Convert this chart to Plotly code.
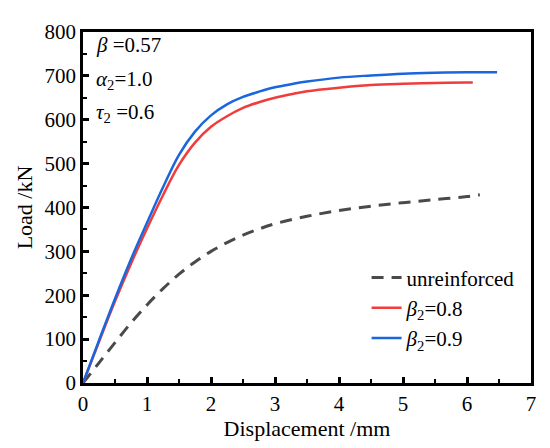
import plotly.graph_objects as go

# displacement (mm) / load (kN)
x_unr = [0, 0.25, 0.5, 0.75, 1.0, 1.25, 1.5, 1.75, 2.0, 2.25, 2.5, 2.75, 3.0, 3.5, 4.0, 4.5, 5.0, 5.5, 6.0, 6.2]
y_unr = [0, 46, 92, 137, 178, 215, 248, 276, 300, 320, 337, 351, 363, 380, 393, 403, 411, 418, 425, 429]

x_b08 = [0, 0.25, 0.5, 0.75, 1.0, 1.25, 1.5, 1.75, 2.0, 2.25, 2.5, 2.75, 3.0, 3.25, 3.5, 4.0, 4.5, 5.0, 5.5, 6.0, 6.09]
y_b08 = [0, 94, 186, 272, 352, 428, 497, 548, 584, 608, 627, 640, 650, 658, 665, 673, 679, 682, 684, 685, 685]

x_b09 = [0, 0.25, 0.5, 0.75, 1.0, 1.25, 1.5, 1.75, 2.0, 2.25, 2.5, 2.75, 3.0, 3.25, 3.5, 4.0, 4.5, 5.0, 5.5, 6.0, 6.47]
y_b09 = [0, 97, 192, 282, 365, 446, 520, 573, 610, 635, 652, 664, 674, 681, 687, 696, 701, 705, 707, 708, 708]

names = ["unreinforced", "<i>β</i><sub>2</sub>=0.8", "<i>β</i><sub>2</sub>=0.9"]
params = ["<i>β</i> =0.57", "<i>α</i><sub>2</sub>=1.0", "<i>τ</i><sub>2</sub> =0.6"]
param_y = [0.963, 0.862, 0.769]

font = "Liberation Serif, Times New Roman, serif"

fig = go.Figure()
fig.add_trace(go.Scatter(x=x_unr, y=y_unr, mode="lines", name=names[0],
                         line=dict(color="#4a4a4a", width=3, dash="12px,8px", shape="spline")))
fig.add_trace(go.Scatter(x=x_b08, y=y_b08, mode="lines", name=names[1],
                         line=dict(color="#f03c3c", width=2.5, shape="spline")))
fig.add_trace(go.Scatter(x=x_b09, y=y_b09, mode="lines", name=names[2],
                         line=dict(color="#1a66dc", width=2.5, shape="spline")))

for t, yy in zip(params, param_y):
    fig.add_annotation(text=t, xref="paper", yref="paper", x=0.025, y=yy,
                       xanchor="left", yanchor="middle", showarrow=False,
                       font=dict(size=21, color="black"))

axis_common = dict(showline=True, linecolor="black", linewidth=2.5, mirror=True,
                   ticks="inside", ticklen=6, tickwidth=2.5, tickcolor="black",
                   showgrid=False, zeroline=False,
                   tickfont=dict(size=21, color="black"))

fig.update_xaxes(range=[0, 7], dtick=1,
                 title=dict(text="Displacement /mm", font=dict(size=22), standoff=0),
                 minor=dict(ticks="inside", ticklen=4, tickwidth=2, dtick=0.5, tickcolor="black"),
                 **axis_common)
fig.update_yaxes(range=[0, 800], dtick=100,
                 title=dict(text="Load /kN", font=dict(size=22), standoff=6),
                 minor=dict(ticks="inside", ticklen=4, tickwidth=2, dtick=50, tickcolor="black"),
                 **axis_common)

# page body adds an 8px offset, so the figure is a bit smaller than the window
fig.update_layout(
    width=542, height=440,
    margin=dict(l=75, r=19, t=15, b=65),
    plot_bgcolor="white", paper_bgcolor="white",
    font=dict(family=font, color="black"),
    legend=dict(x=0.633, y=0.358, xanchor="left", yanchor="top", bgcolor="rgba(0,0,0,0)",
                font=dict(size=21), tracegroupgap=0),
    showlegend=True,
)

fig.write_html("out.html")
